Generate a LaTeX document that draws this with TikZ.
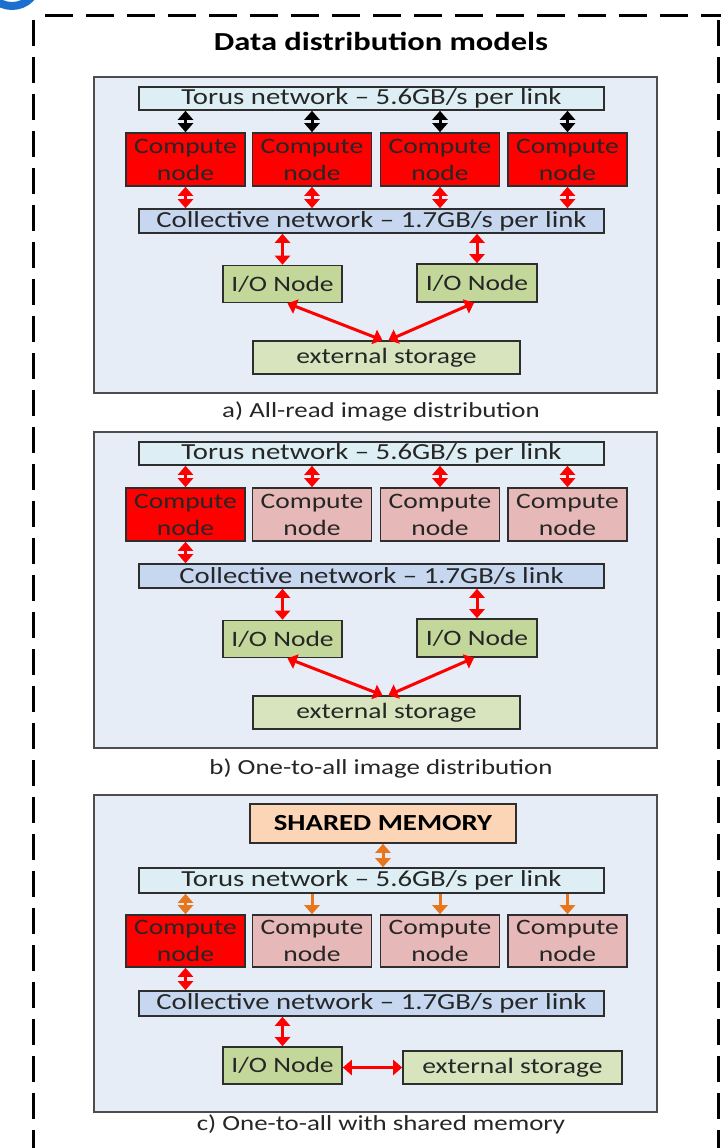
\documentclass[tikz,border=0pt]{standalone}
\usepackage{fontspec}
\setmainfont{Carlito}[FakeStretch=1.25]
\usetikzlibrary{arrows.meta,calc}
\definecolor{panelfill}{HTML}{E7EDF7}
\definecolor{panelline}{HTML}{4D4D4D}
\definecolor{boxline}{HTML}{2E2E2E}
\definecolor{torusfill}{HTML}{DDEFF4}
\definecolor{collfill}{HTML}{C6D7EF}
\definecolor{redfill}{HTML}{FF0000}
\definecolor{pinkfill}{HTML}{E6B8B7}
\definecolor{iofill}{HTML}{C4D79B}
\definecolor{storfill}{HTML}{D7E4BD}
\definecolor{shmfill}{HTML}{FBD5B5}
\definecolor{orangearr}{HTML}{E8761C}
\definecolor{txt}{HTML}{262626}
\definecolor{badge}{HTML}{1B6FCF}
\begin{document}
\begin{tikzpicture}[x=1pt,y=-1pt,
  panel/.style={draw=panelline,fill=panelfill,line width=1.8pt},
  box/.style={draw=boxline,line width=1.6pt,inner sep=0pt,text=txt,align=center,
              font=\fontsize{22}{27}\selectfont},
  netbox/.style={box,minimum width=465pt,font=\fontsize{23}{27}\selectfont},
  cnode/.style={box,minimum width=119pt,minimum height=53pt},
  hot/.style={fill=redfill},
  cold/.style={fill=pinkfill},
  iobox/.style={box,fill=iofill,minimum width=119pt,minimum height=37pt},
  storbox/.style={box,fill=storfill,minimum height=33pt},
  caption/.style={text=txt,font=\fontsize{21.5}{26}\selectfont},
  tip/.tip={Triangle[width=15pt,length=9pt]},
  dblred/.style={draw=red,line width=3pt,{tip}-{tip}},
  dblblk/.style={draw=black,line width=3pt,{tip}-{tip}},
  dblorg/.style={draw=orangearr,line width=3pt,{tip}-{tip}},
  oneorg/.style={draw=orangearr,line width=3pt,-{tip}}]
\clip (0,0) rectangle (721,1148);
\fill[white] (0,0) rectangle (721,1148);
% partial badge at top-left
\draw[badge,line width=8pt] (12,-20) circle[radius=26];
% outer dashed frame
\draw[black,line width=3pt,dash pattern=on 28pt off 13pt] (45,16) -- (721,16);
\draw[black,line width=3pt,dash pattern=on 26pt off 11pt] (33,20) -- (33,1160);
\draw[black,line width=3pt,dash pattern=on 26pt off 11pt] (718,20) -- (718,1160);
\node[text=black,font=\fontsize{26}{30}\selectfont\bfseries] (title) at (381,41) {Data distribution models};

% ---------------- panel a ----------------
\draw[panel] (94,77) rectangle (657,393);
\node[netbox,fill=torusfill,minimum height=23pt] (tA) at (371.5,98.5) {Torus network -- 5.6GB/s per link};
\node[cnode,hot] (cA1) at (185.5,159.5) {Compute\\node};
\node[cnode,hot] (cA2) at (312,159.5) {Compute\\node};
\node[cnode,hot] (cA3) at (440,159.5) {Compute\\node};
\node[cnode,hot] (cA4) at (567.5,159.5) {Compute\\node};
\node[netbox,fill=collfill,minimum height=24pt] (kA) at (371.5,221) {Collective network -- 1.7GB/s per link};
\node[iobox] (iA1) at (282.5,284) {I/O Node};
\node[iobox,minimum width=120pt,minimum height=38pt] (iA2) at (477,283) {I/O Node};
\node[storbox,minimum width=267pt] (sA) at (386.5,357.5) {external storage};
\foreach \i in {1,2,3,4}{
  \draw[dblblk] (cA\i.north |- tA.south) -- (cA\i.north);
  \draw[dblred] (cA\i.south) -- (cA\i.south |- kA.north);
}
\draw[dblred] (iA1.north |- kA.south) -- (iA1.north);
\draw[dblred] (iA2.north |- kA.south) -- (iA2.north);
\draw[dblred] ($(iA1.south)+(5,0)$) -- ($(sA.north)+(-4,0)$);
\draw[dblred] ($(iA2.south)+(-3,0)$) -- ($(sA.north)+(2,0)$);
\node[caption] (capA) at (381,411) {a) All-read image distribution};

% ---------------- panel b ----------------
\draw[panel] (94,432) rectangle (657,748);
\node[netbox,fill=torusfill,minimum height=23pt] (tB) at (371.5,453.5) {Torus network -- 5.6GB/s per link};
\node[cnode,hot] (cB1) at (185.5,514.5) {Compute\\node};
\node[cnode,cold] (cB2) at (312,514.5) {Compute\\node};
\node[cnode,cold] (cB3) at (440,514.5) {Compute\\node};
\node[cnode,cold] (cB4) at (567.5,514.5) {Compute\\node};
\node[netbox,fill=collfill,minimum height=24pt] (kB) at (371.5,576) {Collective network -- 1.7GB/s link};
\node[iobox] (iB1) at (282.5,639) {I/O Node};
\node[iobox,minimum width=120pt,minimum height=38pt] (iB2) at (477,638) {I/O Node};
\node[storbox,minimum width=267pt] (sB) at (386.5,712.5) {external storage};
\foreach \i in {1,2,3,4}{
  \draw[dblred] (cB\i.north |- tB.south) -- (cB\i.north);
}
\draw[dblred] (cB1.south) -- (cB1.south |- kB.north);
\draw[dblred] (iB1.north |- kB.south) -- (iB1.north);
\draw[dblred] (iB2.north |- kB.south) -- (iB2.north);
\draw[dblred] ($(iB1.south)+(5,0)$) -- ($(sB.north)+(-4,0)$);
\draw[dblred] ($(iB2.south)+(-3,0)$) -- ($(sB.north)+(2,0)$);
\node[caption] (capB) at (381,768) {b) One-to-all image distribution};

% ---------------- panel c ----------------
\draw[panel] (94,795) rectangle (657,1112);
\node[box,fill=shmfill,minimum width=266pt,minimum height=39pt,font=\fontsize{23}{27}\selectfont\bfseries,text=black] (shm) at (383,823.5) {SHARED MEMORY};
\node[netbox,fill=torusfill,minimum height=25pt] (tC) at (371.5,880.5) {Torus network -- 5.6GB/s per link};
\node[cnode,hot,minimum height=52pt] (cC1) at (185.5,941) {Compute\\node};
\node[cnode,cold,minimum height=52pt] (cC2) at (312,941) {Compute\\node};
\node[cnode,cold,minimum height=52pt] (cC3) at (440,941) {Compute\\node};
\node[cnode,cold,minimum height=52pt] (cC4) at (567.5,941) {Compute\\node};
\node[netbox,fill=collfill,minimum height=25pt] (kC) at (371.5,1003.5) {Collective network -- 1.7GB/s per link};
\node[iobox] (iC) at (282.5,1065.5) {I/O Node};
\node[storbox,minimum width=219pt] (sC) at (512.5,1067.5) {external storage};
\draw[dblorg] (shm.south) -- (shm.south |- tC.north);
\draw[dblorg] (cC1.north |- tC.south) -- (cC1.north);
\foreach \i in {2,3,4}{
  \draw[oneorg] (cC\i.north |- tC.south) -- (cC\i.north);
}
\draw[dblred] (cC1.south) -- (cC1.south |- kC.north);
\draw[dblred] (iC.north |- kC.south) -- (iC.north);
\draw[dblred] (sC.west -| iC.east) -- (sC.west);
\node[caption] (capC) at (381,1124) {c) One-to-all with shared memory};
\end{tikzpicture}
\end{document}
